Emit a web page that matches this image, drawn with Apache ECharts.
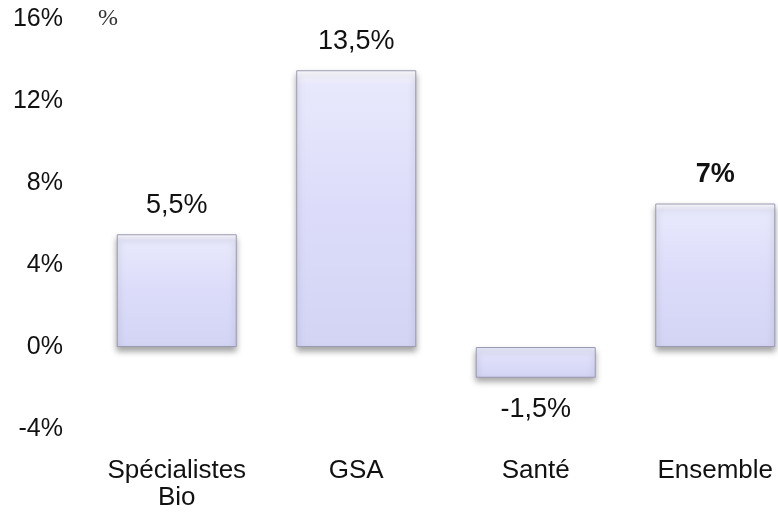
<!DOCTYPE html>
<html><head><meta charset="utf-8">
<script src="https://cdn.jsdelivr.net/npm/echarts@6/dist/echarts.min.js"></script>
<style>html,body{margin:0;padding:0;background:#fff}#c{width:778px;height:515px}</style>
</head><body><div id="c"></div>
<script>
const categories = ['Spécialistes\nBio', 'GSA', 'Santé', 'Ensemble'];
const values = [5.5, 13.5, -1.5, 7];
const boldIndex = [3];
const yTicks = { min: -4, max: 16, interval: 4 };

const chart = echarts.init(document.getElementById('c'));
const fill = new echarts.graphic.LinearGradient(0, 0, 0, 1, [
  { offset: 0, color: '#fdfdff' },
  { offset: 0.05, color: '#e8e8fc' },
  { offset: 0.5, color: '#dcdcfa' },
  { offset: 1, color: '#d3d3f4' }
]);
const data = values.map((v, i) => ({
  value: v,
  label: {
    position: v >= 0 ? 'top' : 'bottom',
    distance: v >= 0 ? 15 : 18,
    fontWeight: boldIndex.includes(i) ? 'bold' : 'normal'
  }
}));
chart.setOption({
  animation: false,
  backgroundColor: '#ffffff',
  textStyle: { fontFamily: 'Liberation Sans, Arial, sans-serif' },
  grid: { left: 87, right: -27, top: 19, bottom: 86, containLabel: false, outerBoundsMode: 'none' },
  graphic: [{
    type: 'text', left: 98, top: 7,
    style: { text: '%', font: '24px "Liberation Serif", serif', fill: '#333' }
  }],
  xAxis: {
    type: 'category', data: categories,
    axisLine: { show: false, onZero: false }, axisTick: { show: false },
    axisLabel: { color: '#111', fontSize: 26, margin: 28, lineHeight: 27, interval: 0, hideOverlap: false }
  },
  yAxis: {
    type: 'value', min: yTicks.min, max: yTicks.max, interval: yTicks.interval,
    splitLine: { show: false }, axisLine: { show: false }, axisTick: { show: false },
    axisLabel: { color: '#111', fontSize: 25, margin: 24, formatter: v => v + '%' }
  },
  series: [{
    type: 'bar', data: data, barWidth: 120,
    itemStyle: {
      color: fill, borderColor: '#9a9ab0', borderWidth: 1,
      shadowColor: 'rgba(0,0,0,0.35)', shadowBlur: 6, shadowOffsetY: 4
    },
    label: {
      show: true, fontSize: 27, color: '#111',
      formatter: p => String(p.value).replace('.', ',') + '%'
    }
  }]
});
</script></body></html>
